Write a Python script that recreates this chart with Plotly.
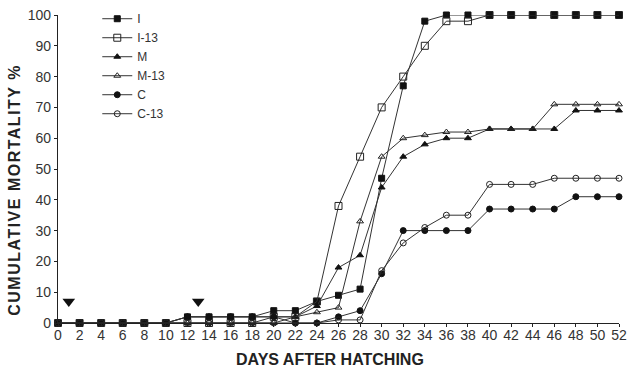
import plotly.graph_objects as go

days = list(range(0, 53, 2))

I_vals    = [0,0,0,0,0,0,2,2,2,2,4,4,7,9,11,47,77,98,100,100,100,100,100,100,100,100,100]
I13_vals  = [0,0,0,0,0,0,0,0,0,0,2,2,7,38,54,70,80,90,98,98,100,100,100,100,100,100,100]
M_vals    = [0,0,0,0,0,0,2,2,2,2,2,2,5.5,18,22,44,54,58,60,60,63,63,63,63,69,69,69]
M13_vals  = [0,0,0,0,0,0,0,0,0,0,0,2,3.5,5,33,54,60,61,62,62,63,63,63,71,71,71,71]
C_vals    = [0,0,0,0,0,0,2,2,2,2,2,0,0,2,4,16,30,30,30,30,37,37,37,37,41,41,41]
C13_vals  = [0,0,0,0,0,0,0,0,0,0,0,0,0,1,1,17,26,31,35,35,45,45,45,47,47,47,47]

series_names = ["I", "I-13", "M", "M-13", "C", "C-13"]
series_vals = [I_vals, I13_vals, M_vals, M13_vals, C_vals, C13_vals]

arrow_days = [1, 13]
arrow_y = [7, 7]

x_ticks = list(range(0, 53, 2))
y_ticks = list(range(0, 101, 10))

x_title = "DAYS AFTER HATCHING"
y_title = "CUMULATIVE MORTALITY %"

styles = [
    dict(symbol="square", size=6, color="#111", line=dict(color="#111", width=1)),
    dict(symbol="square-open", size=7, color="#222", line=dict(color="#222", width=1)),
    dict(symbol="triangle-up", size=6, color="#111", line=dict(color="#111", width=1)),
    dict(symbol="triangle-up-open", size=6, color="#222", line=dict(color="#222", width=1)),
    dict(symbol="circle", size=6, color="#111", line=dict(color="#111", width=1)),
    dict(symbol="circle-open", size=6, color="#222", line=dict(color="#222", width=1)),
]

fig = go.Figure()
for name, vals, st in zip(series_names, series_vals, styles):
    fig.add_trace(go.Scatter(
        x=days, y=vals, name=name, mode="lines+markers",
        line=dict(color="#333", width=1),
        marker=st, cliponaxis=False,
    ))

fig.add_trace(go.Scatter(
    x=arrow_days, y=arrow_y, mode="markers", showlegend=False,
    marker=dict(symbol="triangle-down", size=11, color="#111"),
    cliponaxis=False, hoverinfo="skip",
))

font_family = "Arial, Liberation Sans, sans-serif"
fig.update_layout(
    width=627, height=369,
    margin=dict(l=58, r=8, t=15, b=46, autoexpand=False),
    paper_bgcolor="white", plot_bgcolor="white",
    font=dict(family=font_family, size=13, color="#222"),
    legend=dict(x=0.07, y=1.035, xanchor="left", yanchor="top",
                bgcolor="rgba(0,0,0,0)", font=dict(size=12, color="#333"),
                itemwidth=30, tracegroupgap=0),
    showlegend=True,
    annotations=[
        dict(text="<b>" + x_title + "</b>", xref="paper", yref="paper",
             x=0.485, y=-0.117, xanchor="center", yanchor="middle", showarrow=False,
             font=dict(size=16, color="#222")),
        dict(text="<span style='letter-spacing:1.5px'><b>" + y_title + "</b></span>",
             xref="paper", yref="paper", textangle=-90,
             x=-0.077, y=0.432, xanchor="center", yanchor="middle", showarrow=False,
             font=dict(size=16, color="#222")),
    ],
)
fig.update_xaxes(
    range=[0, 52], tickvals=x_ticks, ticktext=[str(t) for t in x_ticks],
    showgrid=False, zeroline=False, showline=True, linecolor="#222", linewidth=1.2,
    ticks="outside", ticklen=3, tickcolor="#222", automargin=False,
    ticklabeloverflow="allow", ticklabelstandoff=-4,
    tickfont=dict(size=14, color="#333"),
)
fig.update_yaxes(
    range=[0, 100], tickvals=y_ticks, ticktext=[str(t) for t in y_ticks],
    showgrid=False, zeroline=False, showline=True, linecolor="#222", linewidth=1.2,
    ticks="outside", ticklen=3, tickcolor="#222", automargin=False,
    ticklabeloverflow="allow",
    tickfont=dict(size=14, color="#333"),
)

fig.write_html("out.html", config={"displayModeBar": False},
               post_script="document.body.style.margin='0';document.body.style.padding='0';")
